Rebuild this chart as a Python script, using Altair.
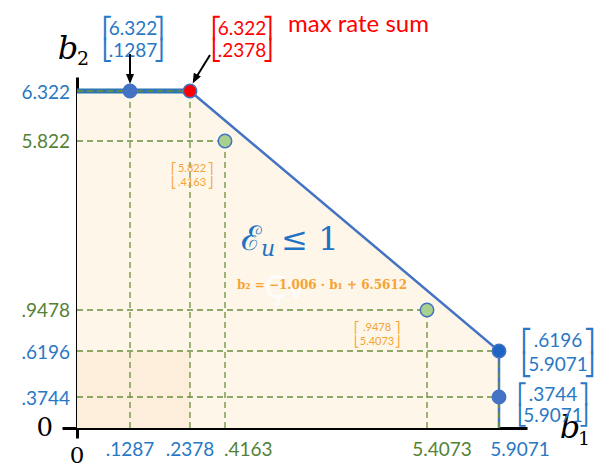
import altair as alt
import pandas as pd

# ---------------- data ----------------
x_ticks = [0, 0.1287, 0.2378, 0.4163, 5.4073, 5.9071]
x_tick_labels = ["0", ".1287", ".2378", ".4163", "5.4073", "5.9071"]
x_tick_tone = ["axis", "rate", "rate", "mid", "mid", "rate"]

y_ticks = [0, 0.3744, 0.6196, 0.9478, 5.822, 6.322]
y_tick_labels = ["0", ".3744", ".6196", ".9478", "5.822", "6.322"]
y_tick_tone = ["axis", "rate", "rate", "mid", "mid", "rate"]

# capacity region boundary
region_b1 = [0, 0.2378, 5.9071]
region_b2 = [6.322, 6.322, 0.6196]
edge_b1 = [0.2378, 5.9071, 5.9071]
edge_b2 = [6.322, 0.6196, 0]
inner_b1 = [0, 0.2378]
inner_b2 = [0, 0.6196]

# highlighted points
pt_b1 = [0.1287, 0.2378, 0.4163, 5.4073, 5.9071, 5.9071]
pt_b2 = [6.322, 6.322, 5.822, 0.9478, 0.6196, 0.3744]
pt_kind = ["rate", "max", "mid", "mid", "corner", "rate"]

# axis ends (for the axis names)
axis_end_b1 = 6.1
axis_end_b2 = 6.75

slope = -1.006
intercept = 6.5612

# ---------------- styling ----------------
BLUE_TXT = "#2878C5"
GREEN_TXT = "#548235"
ORANGE = "#F5A333"
LINE_BLUE = "#4472C4"
TOP_BLUE = "#2E75B6"
DASH_GREEN = "#6A8E3E"
FILL = "#FEF6E9"
FILL2 = "#FCEEDA"
FONT = "Lato"


def fmt(v):
    s = f"{v:g}"
    return s[1:] if s.startswith("0.") else s


xs = alt.Scale(domain=[0, 0.1287, 0.2378, 0.4163, 5.4073, 5.9071, axis_end_b1],
               range=[0, 53, 113, 148, 350, 422, 450], nice=False, zero=False)
ys = alt.Scale(domain=[0, 0.3744, 0.6196, 0.9478, 5.822, 6.322, axis_end_b2],
               range=[351, 320, 274, 233, 64, 14, 0], nice=False, zero=False)

x_axis = alt.Axis(values=[0], labels=False, ticks=True, tickSize=10, tickWidth=3,
                  tickColor="black", domainColor="black", domainWidth=3, grid=False,
                  title="")
y_axis = alt.Axis(values=[0], labels=False, ticks=True, tickSize=15, tickWidth=3,
                  tickColor="black", domainColor="black", domainWidth=3, grid=False,
                  title="")


def X(field="b1"):
    return alt.X(f"{field}:Q", scale=xs, axis=x_axis)


def Y(field="b2"):
    return alt.Y(f"{field}:Q", scale=ys, axis=y_axis)


region = pd.DataFrame({"b1": region_b1, "b2": region_b2, "zero": 0})
edge = pd.DataFrame({"b1": edge_b1, "b2": edge_b2, "idx": range(len(edge_b1))})
inner = pd.DataFrame({"b1": [inner_b1[0]], "b1e": [inner_b1[1]],
                      "b2": [inner_b2[0]], "b2e": [inner_b2[1]]})
top = pd.DataFrame({"b1": region_b1[:2], "b2": region_b2[:2]})
pts = pd.DataFrame({"b1": pt_b1, "b2": pt_b2, "kind": pt_kind, "zero": 0})
pts["lines"] = [[fmt(b2), fmt(b1)] for b1, b2 in zip(pt_b1, pt_b2)]
xl = pd.DataFrame({"b1": x_ticks, "label": x_tick_labels, "tone": x_tick_tone, "b2": 0})
yl = pd.DataFrame({"b2": y_ticks, "label": y_tick_labels, "tone": y_tick_tone, "b1": 0})
x_end = pd.DataFrame({"b1": [axis_end_b1], "b2": [0]})
y_end = pd.DataFrame({"b1": [0], "b2": [axis_end_b2]})

area = alt.Chart(region).mark_area(color=FILL, opacity=1).encode(
    x=X(), y=Y(), y2="zero:Q")
inner_rect = alt.Chart(inner).mark_rect(color=FILL2).encode(
    x=X("b1"), x2="b1e:Q", y=Y("b2"), y2="b2e:Q")
top_line = alt.Chart(top).mark_line(color=TOP_BLUE, strokeWidth=5).encode(x=X(), y=Y())
edge_line = alt.Chart(edge).mark_line(color=LINE_BLUE, strokeWidth=2.5).encode(
    x=X(), y=Y(), order="idx:Q")

hrules = alt.Chart(pts).mark_rule(color=DASH_GREEN, strokeDash=[6, 4], strokeWidth=1.3).encode(
    x=X("zero"), x2="b1:Q", y=Y("b2"))
vrules = alt.Chart(pts).mark_rule(color=DASH_GREEN, strokeDash=[6, 4], strokeWidth=1.3).encode(
    x=X("b1"), y=Y("zero"), y2="b2:Q")

points = alt.Chart(pts).mark_point(filled=True, size=180, stroke=LINE_BLUE,
                                   strokeWidth=1.5, opacity=1).encode(
    x=X(), y=Y(),
    fill=alt.Fill("kind:N", legend=None,
                  scale=alt.Scale(domain=["rate", "max", "mid", "corner"],
                                  range=["#4472C4", "#FF0000", "#A9D18E", "#1E64C4"])),
)


# ---------- tick labels ----------
def xlab(labels, color, **kw):
    return alt.Chart(xl).transform_filter(
        alt.FieldOneOfPredicate(field="label", oneOf=labels)
    ).mark_text(color=color, **kw).encode(x=X(), y=Y(), text="label:N")


def ylab(labels, color, **kw):
    return alt.Chart(yl).transform_filter(
        alt.FieldOneOfPredicate(field="label", oneOf=labels)
    ).mark_text(color=color, **kw).encode(x=X(), y=Y(), text="label:N")


tick_layers = [
    xlab(["0"], "black", font="DejaVu Serif", fontSize=23, dy=28, baseline="middle"),
    xlab([".1287", ".2378"], BLUE_TXT, font=FONT, fontSize=19, dy=22, baseline="middle"),
    xlab([".4163"], GREEN_TXT, font=FONT, fontSize=19, dy=22, dx=-1, align="left", baseline="middle"),
    xlab(["5.4073"], GREEN_TXT, font=FONT, fontSize=19, dy=22, dx=15, baseline="middle"),
    xlab(["5.9071"], BLUE_TXT, font=FONT, fontSize=19, dy=22, dx=21, baseline="middle"),
    ylab(["0"], "black", font="DejaVu Serif", fontSize=26, dx=-24, align="right", baseline="middle"),
    ylab(["6.322", ".6196", ".3744"], BLUE_TXT, font=FONT, fontSize=19, dx=-7, dy=2,
         align="right", baseline="middle"),
    ylab(["5.822", ".9478"], GREEN_TXT, font=FONT, fontSize=19, dx=-7, dy=1,
         align="right", baseline="middle"),
]

# ---------- axis names ----------
def name(df, txt, **kw):
    return alt.Chart(df).mark_text(color="black", font="DejaVu Serif", baseline="middle",
                                   **kw).encode(x=X(), y=Y(), text=alt.value(txt))


axis_names = [
    name(y_end, "b", fontSize=32, fontStyle="italic", dx=-9, dy=-28),
    name(y_end, "2", fontSize=19, dx=6, dy=-18),
    name(x_end, "b", fontSize=32, fontStyle="italic", dx=43, dy=0),
    name(x_end, "1", fontSize=19, dx=57, dy=11),
]


# ---------- bracketed annotations ----------
def matrix(i, color, size, lh, dx, dy, half, bsize):
    df = pts.iloc[[i]]
    base = alt.Chart(df).encode(x=X(), y=Y())
    ent = base.mark_text(color=color, font=FONT, fontSize=size, lineHeight=lh,
                         dx=dx, dy=dy, align="center", baseline="middle").encode(text="lines:N")
    lb = base.mark_text(color=color, font="DejaVu Sans", fontSize=bsize, lineHeight=lh,
                        dx=dx - half, dy=dy, align="left", baseline="middle").encode(
        text=alt.value(["⎡", "⎣"]))
    rb = base.mark_text(color=color, font="DejaVu Sans", fontSize=bsize, lineHeight=lh,
                        dx=dx + half, dy=dy, align="right", baseline="middle").encode(
        text=alt.value(["⎤", "⎦"]))
    return [ent, lb, rb]


ann = []
ann += matrix(0, BLUE_TXT, 19, 22, 3, -62, 31, 21)
ann += matrix(1, "#FF0000", 19, 22, 52, -62, 31, 21)
ann += matrix(2, ORANGE, 11, 14, -33, 28, 21, 11)
ann += matrix(3, ORANGE, 11, 14, -50, 18, 23, 11)
ann += matrix(4, BLUE_TXT, 19, 24, 59, -10, 37, 22)
ann += matrix(5, BLUE_TXT, 19, 21, 54, -2, 36, 20)

p0 = pts.iloc[[0]]
p1 = pts.iloc[[1]]
p3 = pts.iloc[[3]]
HEAD = "M-0.4,-0.5L0,0.5L0.4,-0.5Z"

arrows = [
    alt.Chart(p0).mark_rule(color="black", strokeWidth=2, yOffset=-37, y2Offset=-14).encode(
        x=X(), y=Y(), x2="b1:Q", y2="b2:Q"),
    alt.Chart(p0).mark_point(shape=HEAD, filled=True, color="black", size=400, opacity=1,
                             yOffset=-12).encode(x=X(), y=Y()),
    alt.Chart(p1).mark_rule(color="black", strokeWidth=2, xOffset=20, yOffset=-36,
                            x2Offset=7, y2Offset=-15).encode(
        x=X(), y=Y(), x2="b1:Q", y2="b2:Q"),
    alt.Chart(p1).mark_point(shape=HEAD, filled=True, color="black", size=400, opacity=1,
                             angle=28, xOffset=5, yOffset=-12).encode(x=X(), y=Y()),
]

texts = [
    alt.Chart(p1).mark_text(color="#FF0000", font=FONT, fontSize=24, align="left",
                            baseline="middle", dx=98, dy=-66).encode(
        x=X(), y=Y(), text=alt.value("max rate sum")),
    alt.Chart(p3).mark_text(color="white", font="DejaVu Sans", fontSize=32, opacity=0.85,
                            baseline="middle", dx=-142, dy=-22).encode(
        x=X(), y=Y(), text=alt.value("Çv")),
    alt.Chart(p3).mark_text(color=ORANGE, font="DejaVu Serif", fontSize=12, fontWeight="bold",
                            baseline="middle", dx=-105, dy=-25).encode(
        x=X(), y=Y(),
        text=alt.value(f"b₂ = −{abs(slope):.3f} · b₁ + {intercept:.4f}")),
    alt.Chart(p3).mark_text(color="#1F72C4", font="DejaVu Serif", fontSize=34,
                            baseline="middle", dx=-176, dy=-70).encode(
        x=X(), y=Y(), text=alt.value("ℰ")),
    alt.Chart(p3).mark_text(color="#1F72C4", font="DejaVu Serif", fontStyle="italic",
                            fontSize=22, baseline="middle", dx=-159, dy=-61).encode(
        x=X(), y=Y(), text=alt.value("u")),
    alt.Chart(p3).mark_text(color="#1F72C4", font="DejaVu Serif", fontSize=32,
                            baseline="middle", dx=-117, dy=-70).encode(
        x=X(), y=Y(), text=alt.value("≤ 1")),
]

chart = alt.layer(
    area, inner_rect, top_line, edge_line, hrules, vrules, points,
    *tick_layers, *axis_names, *ann, *arrows, *texts
).properties(
    width=450, height=351,
    autosize=alt.AutoSizeParams(type="none"),
    padding={"left": 69, "top": 69, "right": 67, "bottom": 39},
).configure_view(strokeWidth=0)

chart.save("out.html", embed_options={"renderer": "svg", "actions": False})
